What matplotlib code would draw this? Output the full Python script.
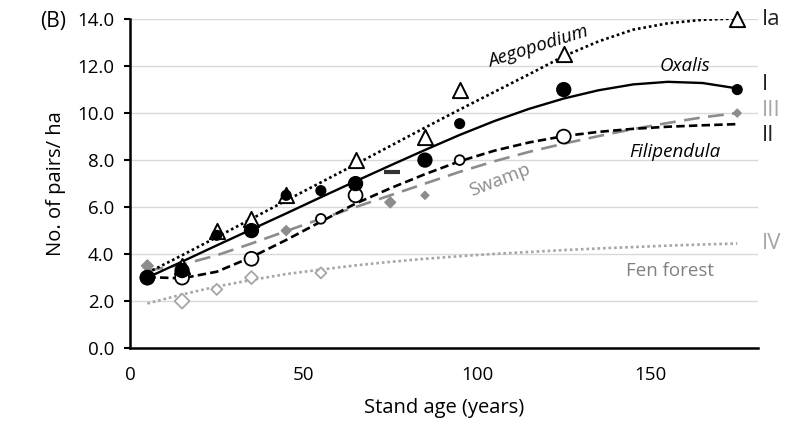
import matplotlib.pyplot as plt
import numpy as np

plt.rcParams['font.family'] = ['Open Sans', 'DejaVu Sans']

# trend curves, every 10 years
trend_age = [5, 15, 25, 35, 45, 55, 65, 75, 85, 95, 105, 115, 125, 135, 145, 155, 165, 175]
aego_trend = [3.2, 3.95, 4.72, 5.5, 6.28, 7.05, 7.82, 8.6, 9.38, 10.15, 10.9, 11.65, 12.42,
              13.05, 13.55, 13.82, 13.97, 14.03]
oxalis_trend = [3.0, 3.68, 4.37, 5.05, 5.73, 6.42, 7.1, 7.77, 8.43, 9.07, 9.66, 10.18, 10.62,
                10.97, 11.22, 11.33, 11.28, 11.05]
fili_trend = [3.02, 2.97, 3.25, 3.87, 4.6, 5.38, 6.15, 6.8, 7.4, 7.95, 8.4, 8.75, 9.02,
              9.2, 9.33, 9.42, 9.48, 9.53]
swamp_trend = [3.3, 3.55, 3.95, 4.45, 4.98, 5.5, 6.0, 6.5, 7.0, 7.5, 7.95, 8.35, 8.7,
               9.02, 9.32, 9.58, 9.82, 10.0]
fen_trend = [1.9, 2.28, 2.62, 2.9, 3.15, 3.34, 3.52, 3.67, 3.8, 3.91, 4.01, 4.09, 4.17,
             4.24, 4.3, 4.36, 4.41, 4.45]

# observed points
aego_x = [15, 25, 35, 45, 65, 85, 95, 125, 175]
aego_y = [3.5, 5.0, 5.5, 6.5, 8.0, 9.0, 11.0, 12.5, 14.0]
oxalis_x = [5, 15, 25, 35, 45, 55, 65, 85, 95, 125, 175]
oxalis_y = [3.0, 3.3, 4.8, 5.0, 6.5, 6.7, 7.0, 8.0, 9.55, 11.0, 11.0]
fili_x = [5, 15, 35, 55, 65, 95, 125]
fili_y = [3.0, 3.0, 3.8, 5.5, 6.5, 8.0, 9.0]
swamp_x = [5, 45, 75, 85, 175]
swamp_y = [3.5, 5.0, 6.2, 6.5, 10.0]
fen_x = [15, 25, 35, 55]
fen_y = [2.0, 2.5, 3.0, 3.2]
extra_x = [75.5]
extra_y = [7.5]

# marker sizes (points), per observation
oxalis_ms = [10, 10, 7, 10, 7, 7, 10, 10, 7, 10, 7]
fili_ms = [10, 10, 10, 7, 10, 7, 10]
swamp_ms = [6, 5, 5.5, 4, 4]
fen_ms = [7.6, 5.6, 6.6, 5.6]

grey = '#8c8c8c'
lgrey = '#a6a6a6'

fig = plt.figure(figsize=(7.88, 4.24), dpi=100)
ax = fig.add_axes([0.165, 0.179, 0.797, 0.776])

ax.plot(trend_age, fen_trend, color=lgrey, lw=1.9, dashes=(1, 1.1), zorder=2)
ax.plot(trend_age, swamp_trend, color=grey, lw=1.9, dashes=(6, 3.2), zorder=2)
ax.plot(trend_age, aego_trend, color='black', lw=1.9, dashes=(1, 1.1), zorder=2)
ax.plot(trend_age, fili_trend, color='black', lw=1.9, dashes=(3.2, 1.6), zorder=2)
ax.plot(trend_age, oxalis_trend, color='black', lw=1.7, zorder=2)

ax.scatter(fen_x, fen_y, s=np.array(fen_ms) ** 2, marker='D', facecolor='white',
           edgecolor=lgrey, linewidth=1.3, zorder=3)
ax.scatter(swamp_x, swamp_y, s=np.array(swamp_ms) ** 2, marker='D', color=grey, zorder=3)
ax.scatter(fili_x, fili_y, s=np.array(fili_ms) ** 2, marker='o', facecolor='white',
           edgecolor='black', linewidth=1.3, zorder=3)
ax.scatter(aego_x, aego_y, s=120, marker='^', facecolor='white', edgecolor='black',
           linewidth=1.4, zorder=4, clip_on=False)
ax.scatter(oxalis_x, oxalis_y, s=np.array(oxalis_ms) ** 2, marker='o', color='black', zorder=5)
ax.plot(extra_x, extra_y, marker='_', ms=11, mew=3, color='#333333', ls='none', zorder=5)

# curve names
ax.text(117.6, 12.82, 'Aegopodium', fontsize=13.5, style='italic', rotation=17.5,
        ha='center', va='center')
ax.text(160, 12.0, 'Oxalis', fontsize=13.5, style='italic', ha='center', va='center')
ax.text(157, 8.35, 'Filipendula', fontsize=13.5, style='italic', ha='center', va='center')
ax.text(106.6, 7.15, 'Swamp', fontsize=13.5, color=grey, rotation=21, ha='center', va='center')
ax.text(155.5, 3.3, 'Fen forest', fontsize=13.5, color='#808080', ha='center', va='center')

# type numerals beyond the axis
for lab, yy, col in [('Ia', 14.0, '#222222'), ('I', 11.2, '#222222'), ('III', 10.1, lgrey),
                     ('II', 9.05, '#222222'), ('IV', 4.45, lgrey)]:
    ax.text(182, yy, lab, fontsize=16, color=col, ha='left', va='center', clip_on=False)

fig.text(0.068, 0.95, '(B)', fontsize=15, ha='center', va='center')

ax.set_xlim(0, 181)
ax.set_ylim(0, 14)
ax.set_xticks([0, 50, 100, 150])
ax.set_yticks(np.arange(0, 14.1, 2))
ax.set_yticklabels(['%.1f' % v for v in np.arange(0, 14.1, 2)])
ax.tick_params(axis='x', length=0, pad=13, labelsize=13.5)
ax.tick_params(axis='y', length=4.5, width=1.5, pad=7, labelsize=13.5)
ax.grid(axis='y', color='#d9d9d9', lw=1)
ax.set_axisbelow(True)
for s in ['top', 'right']:
    ax.spines[s].set_visible(False)
for s in ['left', 'bottom']:
    ax.spines[s].set_linewidth(1.8)

ax.set_xlabel('Stand age (years)', fontsize=14.5, labelpad=10)
ax.set_ylabel('No. of pairs/ ha', fontsize=14.5, labelpad=8)

plt.savefig('out.png', dpi=100)
